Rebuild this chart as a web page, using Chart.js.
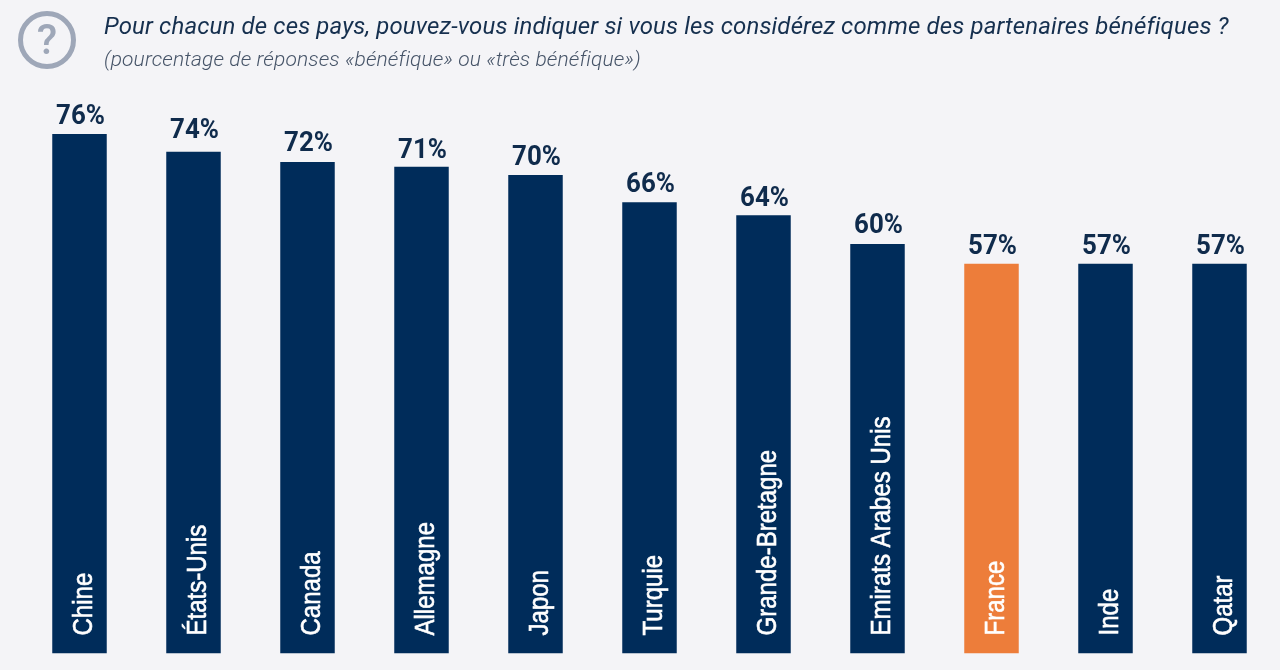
<!DOCTYPE html>
<html lang="fr">
<head>
<meta charset="utf-8">
<title>Partenaires bénéfiques</title>
<script src="https://cdn.jsdelivr.net/npm/chart.js@4"></script>
<style>
  html, body { margin: 0; padding: 0; background: #f4f4f7; overflow: hidden; }
  #wrap { position: relative; width: 1280px; height: 670px; }
  #chart { position: absolute; left: 0; top: 0; }
  .title { position: absolute; left: 104px; white-space: nowrap; font-family: Roboto, sans-serif; font-style: italic; }
  #t1 { top: 11px; font-size: 24px; line-height: 30px; color: #16304f; letter-spacing: 0.14px; }
  #t2 { top: 46px; font-size: 21px; line-height: 26px; color: #465468; font-weight: 300; letter-spacing: 0.12px; }
  #icon { position: absolute; left: 18px; top: 11px; width: 48px; height: 48px; border: 5px solid #9ea7b8; border-radius: 50%;
          text-align: center; font: 500 42px/48px Roboto, sans-serif; color: #9ea7b8; }
</style>
</head>
<body>
<div id="wrap">
  <canvas id="chart" width="1280" height="670"></canvas>
  <div id="icon">?</div>
  <div id="t1" class="title">Pour chacun de ces pays, pouvez-vous indiquer si vous les considérez comme des partenaires bénéfiques ?</div>
  <div id="t2" class="title">(pourcentage de réponses «bénéfique» ou «très bénéfique»)</div>
</div>
<script>
const categories = ["Chine", "États-Unis", "Canada", "Allemagne", "Japon", "Turquie", "Grande-Bretagne", "Emirats Arabes Unis", "France", "Inde", "Qatar"];
// bar heights as drawn in the picture, the printed numbers differ slightly
const values = [76, 73.4, 71.9, 71.2, 70, 66, 64.1, 59.9, 57, 57, 57];
const printed = [76, 74, 72, 71, 70, 66, 64, 60, 57, 57, 57];
const navy = "#002c5a";
const orange = "#ed7d3a";
const barColors = categories.map(c => c === "France" ? orange : navy);

// labels above and inside the bars
const barLabels = {
  id: "barLabels",
  afterDatasetsDraw(chart) {
    const ctx = chart.ctx;
    const yScale = chart.scales.y;
    chart.getDatasetMeta(0).data.forEach((bar, i) => {
      ctx.save();
      ctx.translate(bar.x + 1, yScale.getPixelForValue(printed[i]) - 10);
      ctx.scale(0.96, 1);
      ctx.font = "bold 27px Roboto";
      ctx.fillStyle = "#0f2b4c";
      ctx.textAlign = "center";
      ctx.textBaseline = "alphabetic";
      ctx.fillText(printed[i] + "%", 0, 0);
      ctx.restore();

      ctx.save();
      ctx.translate(bar.x + 12, bar.base - 18);
      ctx.rotate(-Math.PI / 2);
      ctx.scale(0.89, 1);
      ctx.font = "27px 'Liberation Sans'";
      ctx.fillStyle = "#ffffff";
      ctx.strokeStyle = "#ffffff";
      ctx.lineWidth = 0.6;
      ctx.textAlign = "left";
      ctx.textBaseline = "alphabetic";
      ctx.fillText(categories[i], 0, 0);
      ctx.strokeText(categories[i], 0, 0);
      ctx.restore();
    });
  }
};

new Chart(document.getElementById("chart"), {
  type: "bar",
  data: {
    labels: categories,
    datasets: [{
      data: values,
      backgroundColor: barColors,
      barPercentage: 0.478,
      categoryPercentage: 1
    }]
  },
  options: {
    responsive: false,
    animation: false,
    devicePixelRatio: 1,
    layout: { padding: { left: 22.5, right: 3.5, top: 99.8, bottom: 16.5 } },
    plugins: { legend: { display: false }, tooltip: { enabled: false } },
    scales: {
      x: { display: false },
      y: { display: false, min: 0, max: 81 }
    }
  },
  plugins: [barLabels]
});
</script>
</body>
</html>
